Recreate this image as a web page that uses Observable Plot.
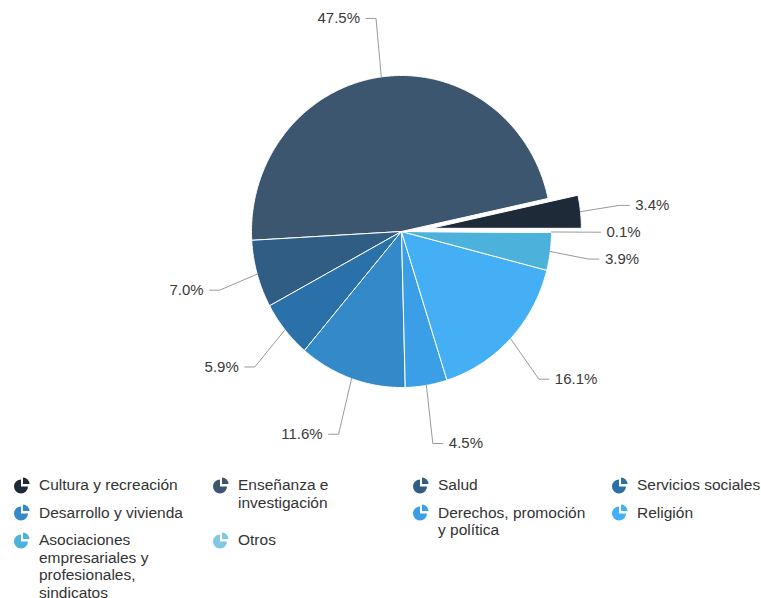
<!DOCTYPE html>
<html><head><meta charset="utf-8">
<script src="https://cdn.jsdelivr.net/npm/d3@7"></script>
<script src="https://cdn.jsdelivr.net/npm/@observablehq/plot@0.6"></script>
<style>
body{margin:0;background:#fff;font-family:"Liberation Sans",Arial,Helvetica,sans-serif;}
#wrap{position:relative;width:761px;height:598px;overflow:hidden;}
#chart{position:absolute;left:0;top:0;}
#legend{position:absolute;left:0;top:476px;width:761px;box-sizing:border-box;padding-left:13px;display:grid;grid-template-columns:199px 200px 199px 150px;grid-auto-rows:27.5px;}
.item{display:flex;align-items:flex-start;font-size:15.5px;line-height:17.5px;color:#333;}
.item svg{flex:none;width:18px;height:18px;margin-right:8px;margin-top:-0.5px;}
.item span{max-width:152px;white-space:normal;}
</style></head><body>
<div id="wrap"><div id="chart"></div><div id="legend"></div></div>
<script>
// ---- data ----
const categories = ["Cultura y recreación","Enseñanza e investigación","Salud","Servicios sociales","Desarrollo y vivienda","Derechos, promoción y política","Religión","Asociaciones empresariales y profesionales, sindicatos","Otros"];
const shares = [3.4, 47.5, 7.0, 5.9, 11.6, 4.5, 16.1, 3.9, 0.1];
const explodedCategories = ["Cultura y recreación"];
const palette = ["#1e2a38","#3c5670","#2f5d84","#2a71aa","#3489c8","#3a9fe6","#44aff5","#4db2db","#80c8e4"];

// ---- layout ----
const W = 761, H = 468;
const cxPx = 401, cyPx = 231, rxPx = 150, ryPx = 156;
const explodePx = 30;
const labelRx = 189 / rxPx, labelRy = 215 / ryPx;
const elbowPx = 10, textGapPx = 16, minGapPx = 26;

const total = d3.sum(shares);
const slices = [];
const connectors = [];
const labels = [];
let cum = 0;
categories.forEach((cat, i) => {
  const v = shares[i];
  const a0 = 2 * Math.PI * cum / total;
  const a1 = 2 * Math.PI * (cum + v) / total;
  cum += v;
  const mid = (a0 + a1) / 2;
  const ex = explodedCategories.includes(cat);
  const ox = ex ? explodePx / rxPx * Math.cos(mid) : 0;
  const oy = ex ? explodePx / ryPx * Math.sin(mid) : 0;
  const steps = Math.max(2, Math.ceil((a1 - a0) / (Math.PI / 360)));
  slices.push({cat, x: ox, y: oy});
  for (let s = 0; s <= steps; s++) {
    const a = a0 + (a1 - a0) * s / steps;
    slices.push({cat, x: ox + Math.cos(a), y: oy + Math.sin(a)});
  }
  slices.push({cat, x: ox, y: oy});
  labels.push({
    cat, v, mid,
    right: Math.cos(mid) >= 0,
    ex: ox + Math.cos(mid), ey: oy + Math.sin(mid),
    bx: ox + labelRx * Math.cos(mid), by: oy + labelRy * Math.sin(mid)
  });
});

// simple overlap avoidance per side (push downward)
for (const side of [true, false]) {
  const group = labels.filter(l => l.right === side).sort((a, b) => b.by - a.by);
  for (let j = 1; j < group.length; j++) {
    const maxY = group[j - 1].by - minGapPx / ryPx;
    if (group[j].by > maxY) group[j].by = maxY;
  }
}
labels.forEach(l => {
  const dir = l.right ? 1 : -1;
  l.hx = l.bx + dir * elbowPx / rxPx;
  l.tx = l.bx + dir * textGapPx / rxPx;
  l.text = l.v.toFixed(1) + "%";
  connectors.push({cat: l.cat, x: l.ex, y: l.ey});
  connectors.push({cat: l.cat, x: l.bx, y: l.by});
  connectors.push({cat: l.cat, x: l.hx, y: l.by});
});

const chart = Plot.plot({
  width: W, height: H,
  margin: 0,
  x: {domain: [-cxPx / rxPx, (W - cxPx) / rxPx], axis: null},
  y: {domain: [-(H - cyPx) / ryPx, cyPx / ryPx], axis: null},
  color: {domain: categories, range: palette},
  style: {fontFamily: '"Liberation Sans", Arial, Helvetica, sans-serif', background: "white"},
  marks: [
    Plot.line(slices, {x: "x", y: "y", z: "cat", fill: "cat", stroke: "white", strokeWidth: 1, curve: "linear", strokeLinejoin: "round"}),
    Plot.line(connectors, {x: "x", y: "y", z: "cat", stroke: "#9a9a9a", strokeWidth: 1, curve: "linear"}),
    Plot.text(labels.filter(l => l.right), {x: "tx", y: "by", text: "text", textAnchor: "start", fontSize: 15, fill: "#3a3a3a"}),
    Plot.text(labels.filter(l => !l.right), {x: "tx", y: "by", text: "text", textAnchor: "end", fontSize: 15, fill: "#3a3a3a"})
  ]
});
document.getElementById("chart").appendChild(chart);

// legend (grid placement as in the reference)
const gridPos = [[1,1],[2,1],[3,1],[4,1],[1,2],[3,2],[4,2],[1,3],[2,3]];
const legend = document.getElementById("legend");
categories.forEach((cat, i) => {
  const c = palette[i];
  const div = document.createElement("div");
  div.className = "item";
  div.style.gridColumn = gridPos[i][0];
  div.style.gridRow = gridPos[i][1];
  div.innerHTML = `<svg viewBox="0 0 18 18"><path d="M8 3.5 A7 7 0 1 0 15 10.5 L8 10.5 Z" fill="${c}"/><path d="M10 1.5 A6.5 6.5 0 0 1 16.5 8 L10 8 Z" fill="${c}"/></svg><span>${cat}</span>`;
  legend.appendChild(div);
});
</script>
</body></html>
